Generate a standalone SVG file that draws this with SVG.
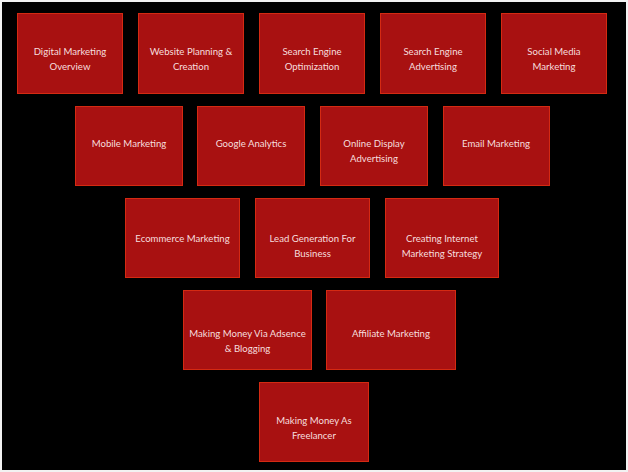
<svg xmlns="http://www.w3.org/2000/svg" width="628" height="472" viewBox="0 0 628 472">
<style>
.box{fill:#A81111;stroke:#D42A12;stroke-width:1}
.t{font-family:Lato,"Open Sans","Liberation Sans",sans-serif;font-size:9.6px;fill:#F6DEDE;text-anchor:middle}
</style>
<rect x="0" y="0" width="628" height="472" fill="#F2F2F2"/>
<rect x="2" y="2" width="624" height="468" fill="#000000"/>
<g id="connectors"></g>
<g id="n1"><rect class="box" x="17.5" y="13.5" width="105" height="80"/><text class="t" x="70" y="55">Digital Marketing</text><text class="t" x="70" y="70">Overview</text></g>
<g id="n2"><rect class="box" x="138.5" y="13.5" width="105" height="80"/><text class="t" x="191" y="55">Website Planning &amp;</text><text class="t" x="191" y="70">Creation</text></g>
<g id="n3"><rect class="box" x="259.5" y="13.5" width="105" height="80"/><text class="t" x="312" y="55">Search Engine</text><text class="t" x="312" y="70">Optimization</text></g>
<g id="n4"><rect class="box" x="380.5" y="13.5" width="105" height="80"/><text class="t" x="433" y="55">Search Engine</text><text class="t" x="433" y="70">Advertising</text></g>
<g id="n5"><rect class="box" x="501.5" y="13.5" width="105" height="80"/><text class="t" x="554" y="55">Social Media</text><text class="t" x="554" y="70">Marketing</text></g>
<g id="n6"><rect class="box" x="75.5" y="106.5" width="107" height="79"/><text class="t" x="129" y="147">Mobile Marketing</text></g>
<g id="n7"><rect class="box" x="197.5" y="106.5" width="107" height="79"/><text class="t" x="251" y="147">Google Analytics</text></g>
<g id="n8"><rect class="box" x="320.5" y="106.5" width="107" height="79"/><text class="t" x="374" y="147">Online Display</text><text class="t" x="374" y="162">Advertising</text></g>
<g id="n9"><rect class="box" x="443.5" y="106.5" width="106" height="79"/><text class="t" x="496" y="147">Email Marketing</text></g>
<g id="n10"><rect class="box" x="125.5" y="198.5" width="114" height="79"/><text class="t" x="182.5" y="242">Ecommerce Marketing</text></g>
<g id="n11"><rect class="box" x="255.5" y="198.5" width="114" height="79"/><text class="t" x="312.5" y="242">Lead Generation For</text><text class="t" x="312.5" y="257">Business</text></g>
<g id="n12"><rect class="box" x="385.5" y="198.5" width="113" height="79"/><text class="t" x="442" y="242">Creating Internet</text><text class="t" x="442" y="257">Marketing Strategy</text></g>
<g id="n13"><rect class="box" x="183.5" y="290.5" width="128" height="79"/><text class="t" x="247.5" y="337">Making Money Via Adsence</text><text class="t" x="247.5" y="352">&amp; Blogging</text></g>
<g id="n14"><rect class="box" x="326.5" y="290.5" width="129" height="79"/><text class="t" x="391" y="337">Affiliate Marketing</text></g>
<g id="n15"><rect class="box" x="259.5" y="382.5" width="109" height="79"/><text class="t" x="314" y="424">Making Money As</text><text class="t" x="314" y="439">Freelancer</text></g>
</svg>
